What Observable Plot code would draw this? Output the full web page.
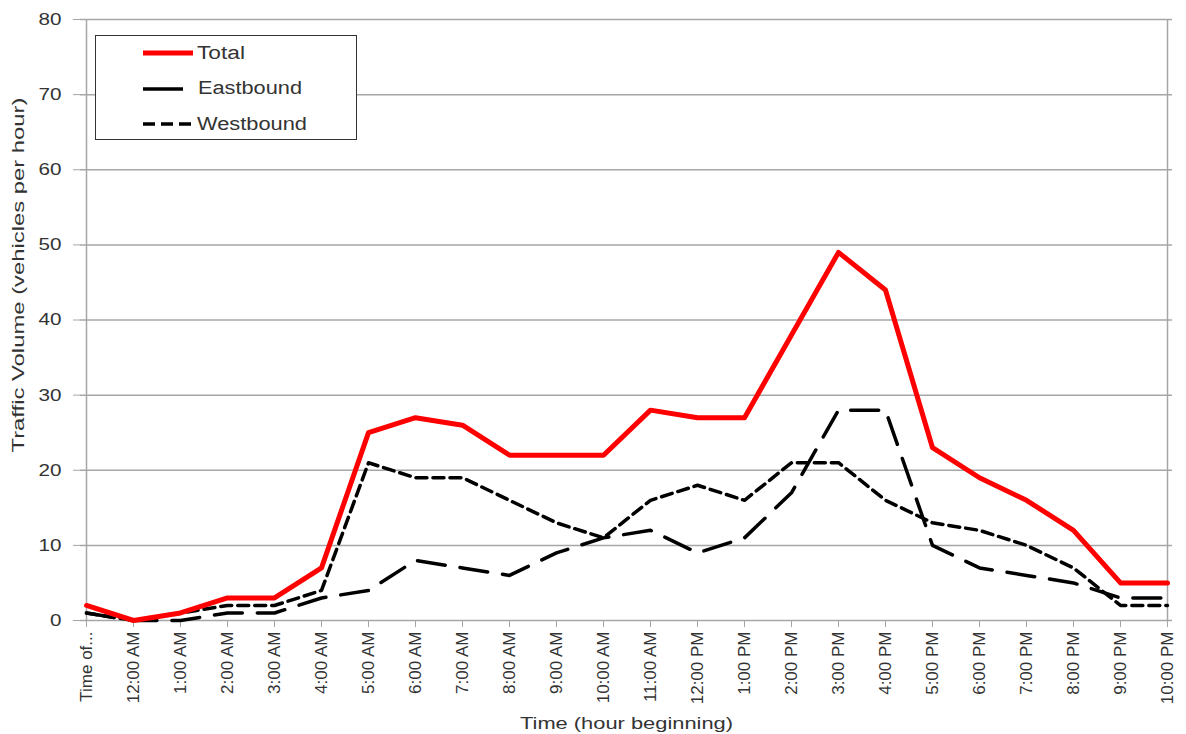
<!DOCTYPE html>
<html>
<head>
<meta charset="utf-8">
<script src="https://cdn.jsdelivr.net/npm/d3@7"></script>
<script src="https://cdn.jsdelivr.net/npm/@observablehq/plot@0.6"></script>
<style>
  html, body { margin: 0; padding: 0; background: #fff; }
  #wrap { position: relative; width: 1186px; height: 734px; font-family: "Liberation Sans", Arial, sans-serif; }
  #legend { position: absolute; left: 95px; top: 35px; width: 262px; height: 105px; border: 1.5px solid #333; background: #fff; box-sizing: border-box; }
</style>
</head>
<body>
<div id="wrap"></div>
<script>
const categories = ["Time of...", "12:00 AM", "1:00 AM", "2:00 AM", "3:00 AM", "4:00 AM", "5:00 AM", "6:00 AM", "7:00 AM", "8:00 AM", "9:00 AM", "10:00 AM", "11:00 AM", "12:00 PM", "1:00 PM", "2:00 PM", "3:00 PM", "4:00 PM", "5:00 PM", "6:00 PM", "7:00 PM", "8:00 PM", "9:00 PM", "10:00 PM"];
const total     = [2, 0, 1, 3, 3, 7, 25, 27, 26, 22, 22, 22, 28, 27, 27, 38, 49, 44, 23, 19, 16, 12, 5, 5];
const eastbound = [1, 0, 0, 1, 1, 3, 4, 8, 7, 6, 9, 11, 12, 9, 11, 17, 28, 28, 10, 7, 6, 5, 3, 3];
const westbound = [1, 0, 1, 2, 2, 4, 21, 19, 19, 16, 13, 11, 16, 18, 16, 21, 21, 16, 13, 12, 10, 7, 2, 2];
const yTicks = [0, 10, 20, 30, 40, 50, 60, 70, 80];
const yTitle = "Traffic Volume (vehicles per hour)";
const xTitle = "Time (hour beginning)";

const rows = (vals) => categories.map((c, i) => ({cat: c, v: vals[i]}));
const font = "'Liberation Sans', Arial, sans-serif";

const chart = Plot.plot({
  width: 1186,
  height: 734,
  marginLeft: 80,
  marginRight: 14,
  marginTop: 19,
  marginBottom: 114,
  style: {fontFamily: font, background: "#fff"},
  x: {type: "point", domain: categories, padding: 0},
  y: {domain: [0, 80]},
  marks: [
    Plot.ruleY(yTicks.slice(1), {stroke: "#a6a6a6", strokeWidth: 1.5}),
    Plot.ruleX([categories[categories.length - 1]], {stroke: "#a6a6a6", strokeWidth: 1.5}),
    Plot.ruleX([categories[0]], {stroke: "#a6a6a6", strokeWidth: 1.5}),
    Plot.ruleY([0], {stroke: "#a6a6a6", strokeWidth: 1.5}),
    Plot.axisY({ticks: yTicks, tickSize: 7, tickPadding: 12, fontSize: 17, stroke: "#a6a6a6", color: "#333", label: null}),
    Plot.axisX({tickRotate: -90, tickSize: 7, tickPadding: 4, fontSize: 17, stroke: "#a6a6a6", color: "#333", label: null}),
    Plot.text([yTitle], {frameAnchor: "left", rotate: -90, dx: -62, dy: -45, fontSize: 17, fill: "#333", textAnchor: "middle", lineAnchor: "middle"}),
    Plot.text([xTitle], {frameAnchor: "bottom", dy: 108, fontSize: 17, fill: "#333", textAnchor: "middle", lineAnchor: "bottom"}),
    Plot.lineY(rows(westbound), {x: "cat", y: "v", stroke: "#000", strokeWidth: 3.5, strokeDasharray: "11,6"}),
    Plot.lineY(rows(eastbound), {x: "cat", y: "v", stroke: "#000", strokeWidth: 3.5, strokeDasharray: "28,15"}),
    Plot.lineY(rows(total), {x: "cat", y: "v", stroke: "#ff0000", strokeWidth: 5})
  ]
});

// widen text horizontally like the (horizontally stretched) reference image
chart.querySelectorAll("text").forEach(t => {
  const s = t.textContent;
  if (s === yTitle) { t.setAttribute("textLength", 355); t.setAttribute("lengthAdjust", "spacingAndGlyphs"); }
  else if (s === xTitle) { t.setAttribute("textLength", 213); t.setAttribute("lengthAdjust", "spacingAndGlyphs"); }
  else if (/^\d+$/.test(s)) { t.setAttribute("textLength", s.length * 11.5); t.setAttribute("lengthAdjust", "spacingAndGlyphs"); }
});

const wrap = document.getElementById("wrap");
wrap.appendChild(chart);

const legend = document.createElement("div");
legend.id = "legend";
legend.innerHTML = `
<svg width="262" height="105" style="position:absolute;left:0;top:0;font-family:${font};font-size:18px">
  <line x1="47" x2="97" y1="17" y2="17" stroke="#ff0000" stroke-width="5"/>
  <text x="101" y="23" fill="#333" textLength="48" lengthAdjust="spacingAndGlyphs">Total</text>
  <line x1="47" x2="87" y1="53" y2="53" stroke="#000" stroke-width="3.5"/>
  <text x="102" y="58" fill="#333" textLength="104" lengthAdjust="spacingAndGlyphs">Eastbound</text>
  <line x1="47" x2="95" y1="88" y2="88" stroke="#000" stroke-width="3.5" stroke-dasharray="12,6"/>
  <text x="101" y="94" fill="#333" textLength="110" lengthAdjust="spacingAndGlyphs">Westbound</text>
</svg>`;
wrap.appendChild(legend);
</script>
</body>
</html>
